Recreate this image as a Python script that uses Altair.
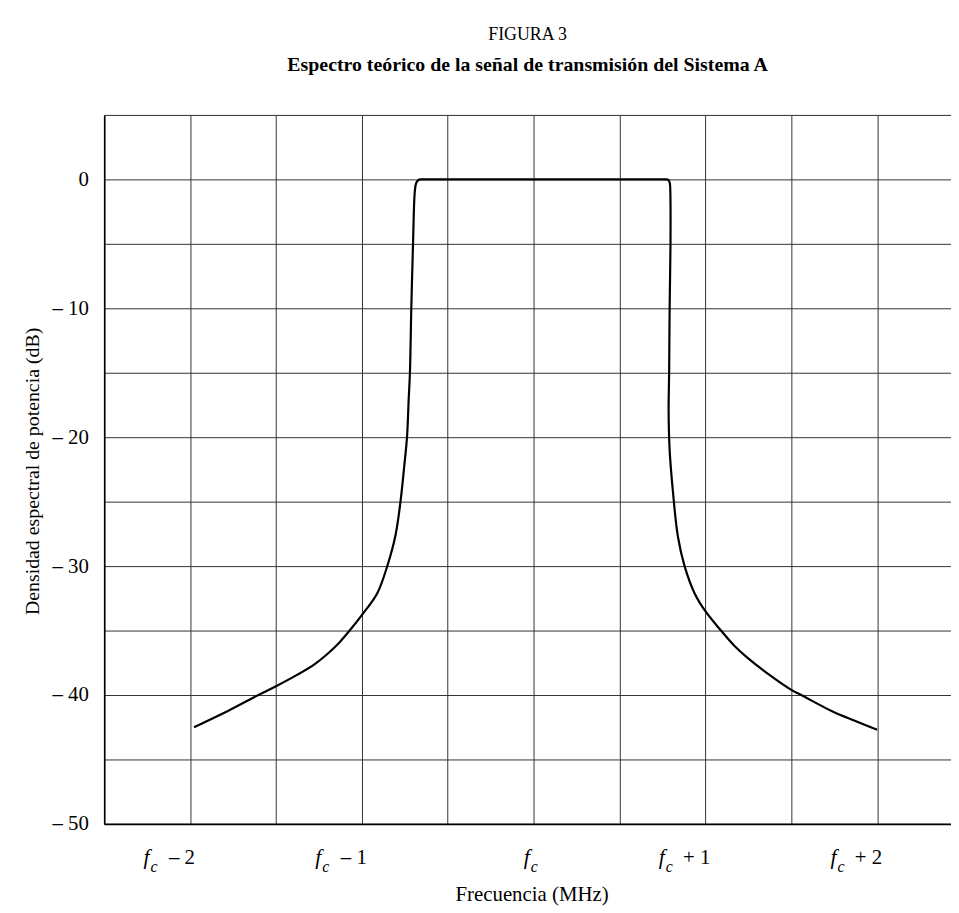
import altair as alt
import pandas as pd

# ---- data ----
freq_mhz = [-1.977, -1.774, -1.602, -1.497, -1.372, -1.274, -1.199, -1.129, -1.071, -1.000,
            -0.910, -0.852, -0.804, -0.775, -0.752, -0.737, -0.727, -0.720, -0.712, -0.702,
            -0.692, -0.684, -0.670, -0.655, -0.640, 0.755, 0.770, 0.785, 0.793, 0.796, 0.797,
            0.792, 0.789, 0.786, 0.792, 0.811, 0.840, 0.879, 0.937, 1.000, 1.091,
            1.170, 1.244, 1.379, 1.500, 1.558, 1.744, 1.870, 2.000]
psd_db = [-42.5, -41.2, -40.0, -39.3, -38.4, -37.6, -36.8, -35.9, -35.0, -33.8,
          -32.1, -30.0, -27.6, -25.0, -22.1, -20.0, -17.0, -15.0, -10.0, -5.0,
          -1.0, -0.3, -0.05, 0.0, 0.0, 0.0, 0.0, -0.05, -0.3, -1.0, -5.0,
          -10.0, -15.0, -18.0, -21.0, -24.2, -27.7, -30.0, -32.1, -33.5, -35.0,
          -36.2, -37.1, -38.5, -39.6, -40.0, -41.3, -42.0, -42.7]

tick_values = [-2, -1, 0, 1, 2]
tick_suffix = ["\u2013 2", "\u2013 1", "", "+ 1", "+ 2"]
x_grid = [-2.5, -2.0, -1.5, -1.0, -0.5, 0.0, 0.5, 1.0, 1.5, 2.0]
y_grid = list(range(-50, 6, 5))

curve = pd.DataFrame({"order": list(range(len(freq_mhz))), "f": freq_mhz, "db": psd_db})
labels = pd.DataFrame({"t": tick_values, "suffix": tick_suffix})

SERIF = "Liberation Serif"
W, H = 854, 715

xscale = alt.Scale(domain=[-2.5, 2.43], nice=False, zero=False)
yscale = alt.Scale(domain=[-50, 5], nice=False, zero=False)

line = alt.Chart(curve).mark_line(color="black", strokeWidth=2.2, strokeJoin="round",
                                  interpolate="catmull-rom").encode(
    x=alt.X("f:Q", scale=xscale,
            axis=alt.Axis(values=x_grid, labels=False, ticks=False, grid=True,
                          gridColor="#333", gridWidth=1, domainColor="black", domainWidth=1.6,
                          title="Frecuencia (MHz)", titleFont=SERIF, titleFontSize=21,
                          titleFontWeight="normal", titleColor="black",
                          titleX=431, titleY=77, titleBaseline="alphabetic")),
    y=alt.Y("db:Q", scale=yscale,
            axis=alt.Axis(values=y_grid, ticks=False, grid=True, gridColor="#333", gridWidth=1,
                          domainColor="black", domainWidth=1.6,
                          labelExpr="datum.value % 10 == 0 && datum.value <= 0 ? (datum.value == 0 ? '0' : '\u2013 ' + abs(datum.value)) : ''",
                          labelFont=SERIF, labelFontSize=21, labelColor="black", labelPadding=16,
                          title="Densidad espectral de potencia (dB)", titleFont=SERIF,
                          titleFontSize=20, titleFontWeight="normal", titleColor="black",
                          titleAngle=-90, titleX=-66, titleY=359, titleAlign="center",
                          titleBaseline="alphabetic")),
    order="order:Q",
)

base = alt.Chart(labels)
nz = base.transform_filter("datum.t != 0")
zr = base.transform_filter("datum.t == 0")

xl = alt.X("t:Q", scale=xscale)
f_nz = nz.mark_text(text="f", font=SERIF, fontStyle="italic", fontSize=22, align="left",
                    baseline="alphabetic", dx=-47, color="black").encode(x=xl, y=alt.value(H + 40))
c_nz = nz.mark_text(text="c", font=SERIF, fontStyle="italic", fontSize=16, align="left",
                    baseline="alphabetic", dx=-40, color="black").encode(x=xl, y=alt.value(H + 48))
f_z = zr.mark_text(text="f", font=SERIF, fontStyle="italic", fontSize=22, align="left",
                   baseline="alphabetic", dx=-10, color="black").encode(x=xl, y=alt.value(H + 40))
c_z = zr.mark_text(text="c", font=SERIF, fontStyle="italic", fontSize=16, align="left",
                   baseline="alphabetic", dx=-3, color="black").encode(x=xl, y=alt.value(H + 48))
suf = nz.mark_text(font=SERIF, fontSize=21, align="right", baseline="alphabetic", dx=5,
                   color="black").encode(x=xl, y=alt.value(H + 40), text="suffix:N")

chart = alt.layer(line, f_nz, c_nz, f_z, c_z, suf).properties(
    width=W, height=H,
    title=alt.TitleParams(
        text="FIGURA 3",
        subtitle="Espectro teórico de la señal de transmisión del Sistema A",
        font=SERIF, fontSize=18, fontWeight="normal", color="black",
        subtitleFont=SERIF, subtitleFontSize=20, subtitleFontWeight="bold", subtitleColor="black",
        anchor="middle", offset=40, subtitlePadding=12,
    ),
    autosize=alt.AutoSizeParams(type="none"),
    padding={"left": 97, "top": 104, "right": 0, "bottom": 85},
).configure_view(stroke=None).configure(background="white")

chart.save("out.html", embed_options={"renderer": "svg", "actions": False})
